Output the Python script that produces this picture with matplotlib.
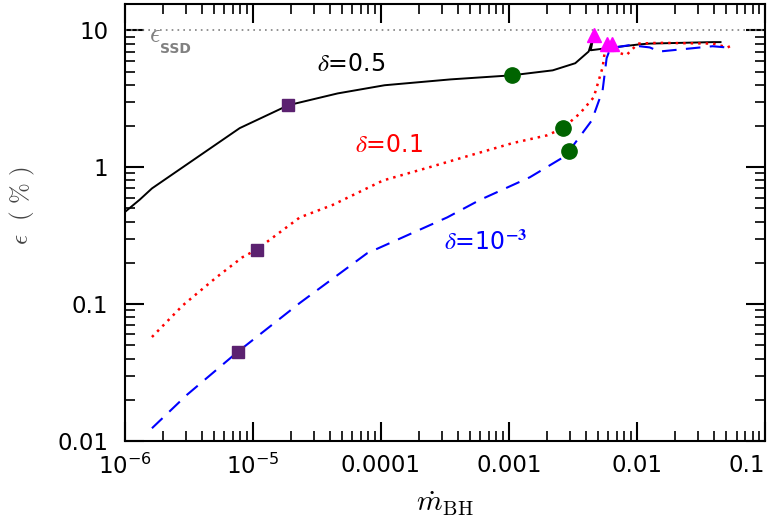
import numpy as np
import matplotlib
matplotlib.use('Agg')
import matplotlib.pyplot as plt
from matplotlib.ticker import FixedLocator, FixedFormatter, LogLocator, NullFormatter

plt.rcParams['font.family'] = ['DejaVu Sans']

# delta = 0.5 (solid black)
mdot_05 = [1.0e-6, 1.31e-6, 1.63e-6, 7.9e-6, 1.9e-5, 4.6e-5, 1.07e-4, 3.5e-4, 1.05e-3,
           2.2e-3, 3.3e-3, 4.2e-3, 4.6e-3, 4.36e-3, 5.8e-3, 1.055e-2, 1.26e-2, 3.93e-2, 4.5e-2]
eps_05 = [0.47, 0.58, 0.70, 1.93, 2.84, 3.46, 3.97, 4.38, 4.69,
          5.1, 5.75, 7.0, 9.2, 7.15, 7.4, 7.9, 8.0, 8.2, 8.2]

# delta = 0.1 (dotted red)
mdot_01 = [1.63e-6, 2.84e-6, 5.2e-6, 8.3e-6, 1.07e-5, 2.33e-5, 4.2e-5, 1.04e-4, 2.4e-4,
           4.4e-4, 1.07e-3, 1.99e-3, 2.65e-3, 3.6e-3, 4.6e-3, 5.4e-3, 5.6e-3, 6.1e-3,
           7.0e-3, 8.3e-3, 1.02e-2, 1.5e-2, 3.93e-2, 5.1e-2, 5.5e-2]
eps_01 = [0.0575, 0.098, 0.157, 0.22, 0.25, 0.43, 0.53, 0.80, 1.0,
          1.18, 1.50, 1.71, 1.93, 2.48, 3.24, 5.37, 6.9, 8.0,
          6.9, 6.6, 8.0, 8.1, 8.0, 7.5, 7.75]

# delta = 1e-3 (dashed blue)
mdot_3 = [1.63e-6, 3.05e-6, 7.6e-6, 2.33e-5, 7.8e-5, 3.3e-4, 5.9e-4, 1.46e-3, 2.65e-3,
          2.95e-3, 4.45e-3, 5.4e-3, 5.8e-3, 6.2e-3, 8.8e-3, 1.26e-2, 1.5e-2, 3.9e-2,
          5.0e-2, 5.5e-2]
eps_3 = [0.0124, 0.0217, 0.0447, 0.102, 0.235, 0.43, 0.575, 0.845, 1.18,
         1.31, 2.2, 3.65, 6.25, 7.4, 7.8, 7.5, 7.0, 7.65,
         7.5, 8.0]

# markers
sq_x = [1.9e-5, 1.07e-5, 7.6e-6]
sq_y = [2.84, 0.25, 0.0447]
circ_x = [1.05e-3, 2.65e-3, 2.95e-3]
circ_y = [4.69, 1.93, 1.31]
tri_x = [4.6e-3, 5.8e-3, 6.4e-3]
tri_y = [9.2, 7.9, 8.0]

eps_ssd = 10.0

xticks = [1e-6, 1e-5, 1e-4, 1e-3, 1e-2, 1e-1]
xticklabels = ['$10^{-6}$', '$10^{-5}$', '0.0001', '0.001', '0.01', '0.1']
yticks = [0.01, 0.1, 1, 10]
yticklabels = ['0.01', '0.1', '1', '10']

fig = plt.figure(figsize=(7.75, 5.32), dpi=100)
ax = fig.add_axes([0.161, 0.171, 0.826, 0.821])

ax.axhline(eps_ssd, color='gray', ls=(0, (1, 2.5)), lw=1.2)
ax.plot(mdot_05, eps_05, color='black', lw=1.4)
ax.plot(mdot_01, eps_01, color='red', ls=(0, (1, 2)), lw=1.8)
ax.plot(mdot_3, eps_3, color='blue', ls=(0, (7, 4.5)), lw=1.5)

ax.plot(sq_x, sq_y, 's', color='#5b2170', ms=8.5, ls='none')
ax.plot(circ_x, circ_y, 'o', color='#006400', ms=11, ls='none')
ax.plot(tri_x, tri_y, '^', color='#ff00ff', ms=10, ls='none')

ax.set_xscale('log')
ax.set_yscale('log')
ax.set_xlim(1e-6, 0.1)
ax.set_ylim(0.01, 15.5)

ax.xaxis.set_major_locator(FixedLocator(xticks))
ax.xaxis.set_major_formatter(FixedFormatter(xticklabels))
ax.yaxis.set_major_locator(FixedLocator(yticks))
ax.yaxis.set_major_formatter(FixedFormatter(yticklabels))
ax.xaxis.set_minor_locator(LogLocator(base=10, subs=np.arange(2, 10), numticks=20))
ax.yaxis.set_minor_locator(LogLocator(base=10, subs=np.arange(2, 10), numticks=20))
ax.xaxis.set_minor_formatter(NullFormatter())
ax.yaxis.set_minor_formatter(NullFormatter())

ax.tick_params(which='both', direction='in', top=True, right=True, labelsize=16.5)
ax.tick_params(which='major', length=14, width=1.5)
ax.tick_params(which='minor', length=7, width=1.2)
ax.tick_params(axis='x', pad=9)
ax.tick_params(axis='y', pad=12)
for s in ax.spines.values():
    s.set_linewidth(1.5)

# last x tick label sits at the right edge
ax.get_xticklabels()[-1].set_ha('right')
ax.get_xticklabels()[-1].set_x(0.1)

# epsilon_SSD label
ax.text(1.55e-6, 8.2, r'$\epsilon$', color='gray', fontsize=19, math_fontfamily='cm',
        va='baseline')
ax.text(1.9e-6, 6.85, 'SSD', color='gray', fontsize=10, fontweight='bold', va='baseline')

ax.text(5.9e-5, 5.65, r'$\delta$=0.5', color='black', fontsize=17, ha='center', va='center',
        math_fontfamily='stix')
ax.text(1.15e-4, 1.45, r'$\delta$=0.1', color='red', fontsize=17, ha='center', va='center',
        math_fontfamily='stix')
ax.text(6.6e-4, 0.284, r'$\delta$=10$^{\mathbf{-3}}$', color='blue', fontsize=17, ha='center',
        va='center', math_fontfamily='stix')

ax.set_xlabel(r'$\dot{m}_{\rm BH}$', fontsize=21, math_fontfamily='cm')
ax.xaxis.set_label_coords(0.5, -0.11)
ax.set_ylabel(r'$\epsilon\ \ (\ \%\ )$', fontsize=18, math_fontfamily='cm', color='#444444')
ax.yaxis.set_label_coords(-0.1375, 0.54)

fig.savefig('out.png', dpi=100)
